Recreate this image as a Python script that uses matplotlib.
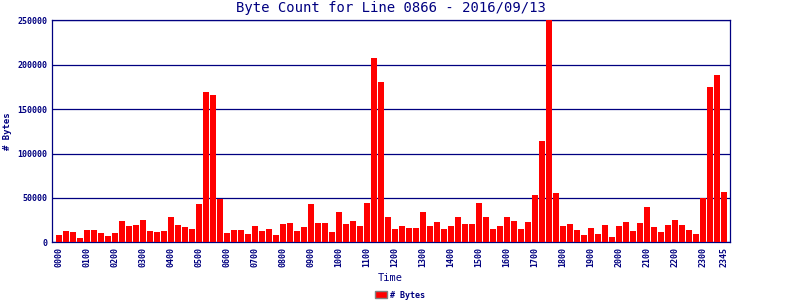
import matplotlib
matplotlib.use("Agg")
import matplotlib.pyplot as plt

# 15-minute slots, 0000 .. 2345
slots = [f"{h:02d}{m:02d}" for h in range(24) for m in (0, 15, 30, 45)]
byte_counts = [
    8300, 12800, 11700, 4900, 13900, 13900, 10500, 7100,
    10500, 24000, 18400, 19600, 25200, 12800, 11700, 12800,
    28600, 19600, 17300, 15000, 43200, 169600, 166200, 49300,
    10500, 13900, 13900, 9400, 18400, 12800, 15000, 8300,
    20700, 21800, 12800, 17300, 43200, 21800, 21800, 11700,
    34200, 20700, 24000, 18400, 44400, 208000, 180900, 28600,
    15000, 18400, 16200, 16200, 34200, 18400, 22900, 15000,
    18400, 28600, 20700, 20700, 44400, 28600, 15000, 18400,
    28600, 24000, 15000, 22900, 53400, 114300, 252000, 55600,
    18400, 20700, 13900, 8300, 16200, 9400, 19600, 6000,
    18400, 22900, 12800, 21800, 39900, 17300, 11700, 19600,
    25200, 19600, 13900, 9400, 50000, 175200, 188800, 56800,
]
tick_idx = list(range(0, 96, 4)) + [95]
tick_labels = [slots[i] for i in tick_idx]

NAVY = "#000080"
RED = "#ff0000"
MONO = "DejaVu Sans Mono"

fig = plt.figure(figsize=(8, 3), dpi=100)
ax = fig.add_axes([51.5 / 800, 57.7 / 300, 678.5 / 800, 222 / 300])

x = list(range(len(byte_counts)))
ax.bar(x, byte_counts, width=0.857, color=RED, label="# Bytes", zorder=3)

ax.set_xlim(-1.07, 95.86)
ax.set_ylim(0, 250000)
ax.set_yticks(range(0, 250001, 50000))
ax.set_xticks(tick_idx)
ax.set_xticklabels(tick_labels, rotation=90)
ax.tick_params(axis="both", length=0, colors=NAVY, labelsize=6)
ax.tick_params(axis="x", pad=3.6)
ax.tick_params(axis="y", pad=3.2)
for lbl in ax.get_xticklabels() + ax.get_yticklabels():
    lbl.set_family(MONO)
    lbl.set_fontweight("bold")

ax.grid(axis="y", color=NAVY, linewidth=0.9, zorder=1)
for sp in ax.spines.values():
    sp.set_color(NAVY)
    sp.set_linewidth(0.9)

ax.set_title("Byte Count for Line 0866 - 2016/09/13", family=MONO,
             fontsize=10, color=NAVY, pad=6)
ax.set_xlabel("Time", family=MONO, fontsize=7.5, color=NAVY, labelpad=4)
ax.set_ylabel("# Bytes", family=MONO, fontsize=6.5, fontweight="bold",
              color=NAVY, labelpad=4)

leg = fig.legend(loc="center", bbox_to_anchor=(0.5, 1 - 295 / 300),
                 frameon=False, prop={"family": MONO, "size": 6, "weight": "bold"},
                 handlelength=1.4, handleheight=0.9, handletextpad=0.3)
for txt in leg.get_texts():
    txt.set_color(NAVY)
for h in leg.legend_handles:
    h.set_edgecolor("#808080")
    h.set_linewidth(1)

fig.savefig("out.png", dpi=100)
